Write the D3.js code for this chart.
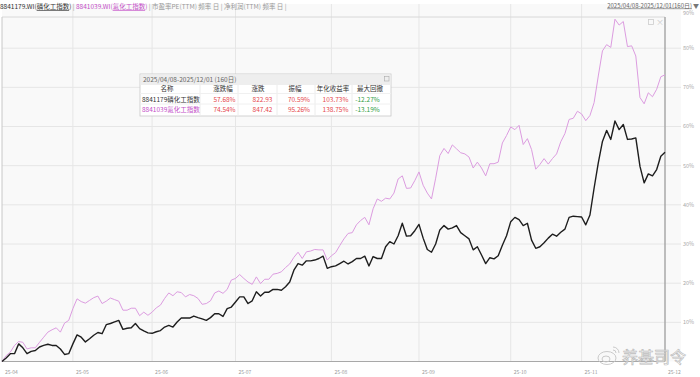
<!DOCTYPE html>
<html>
<head>
<meta charset="utf-8">
<script src="https://cdn.jsdelivr.net/npm/d3@7"></script>
<style>
  html, body { margin: 0; padding: 0; background: #fff; }
  svg { display: block; font-family: "Noto Sans CJK SC", "Noto Sans", sans-serif; }
</style>
</head>
<body>
<svg id="chart"></svg>
<script>
// 磷化工 / 氟化工 cumulative change (%) over 160 trading days, 2025/04/08 - 2025/12/01
const seriesNames = ['8841179.WI(磷化工指数)', '8841039.WI(氟化工指数)']
const phosphorus = [
  0, 0.9, 2.0, 2.0, 4.5, 3.5, 2.0, 2.6, 2.8, 3.7,
  4.1, 4.4, 4.1, 4.1, 3.2, 1.8, 2.0, 4.5, 6.8, 6.2,
  5.0, 5.8, 6.7, 7.4, 7.1, 9.4, 9.7, 10.1, 10.5, 8.2,
  8.5, 8.6, 9.7, 8.4, 7.8, 7.3, 7.2, 7.6, 7.9, 8.8,
  9.2, 8.8, 10.1, 11.1, 11.1, 11.1, 11.6, 11.2, 10.9, 10.5,
  11.2, 12.2, 12.2, 11.5, 13.5, 13.9, 15.2, 16.5, 16.5, 14.8,
  15.5, 17.8, 16.7, 17.7, 17.7, 18.4, 18.4, 18.2, 19.1, 20.3,
  23.3, 25.0, 24.6, 25.7, 25.7, 25.9, 26.3, 26.9, 23.8, 24.2,
  24.4, 25.0, 25.6, 24.9, 25.5, 26.3, 26.3, 26.9, 24.4, 26.8,
  26.3, 26.3, 29.3, 30.6, 30.0, 32.1, 35.3, 32.0, 32.1, 33.4,
  35.0, 31.5, 28.6, 27.9, 30.0, 33.6, 34.7, 33.8, 34.1, 34.7,
  32.9, 32.1, 31.3, 28.5, 29.3, 27.2, 25.0, 26.5, 26.2, 27.0,
  29.7, 32.1, 35.7, 36.8, 36.2, 34.7, 35.3, 31.0, 28.9, 29.3,
  30.3, 31.5, 32.5, 32.0, 33.0, 33.8, 36.8, 37.1, 37.0, 36.9,
  34.9, 37.4, 44.3, 50.7, 56.2, 59.0, 56.7, 61.4, 59.2, 60.5,
  56.7, 56.8, 57.1, 49.8, 45.6, 47.9, 47.4, 49.0, 52.4, 53.4
]
const fluorine = [
  0, 1.5, 2.4, 4.1, 5.1, 4.9, 3.2, 3.5, 3.5, 4.9,
  6.2, 7.5, 8.1, 8.6, 7.5, 9.8, 10.5, 13.5, 16.0, 15.3,
  14.9, 15.6, 16.3, 16.7, 14.8, 15.4, 16.2, 15.8, 15.4, 13.1,
  13.1, 13.6, 13.6, 11.7, 12.6, 11.8, 12.6, 13.7, 14.4, 16.1,
  17.5, 16.8, 17.8, 17.6, 16.5, 17.1, 16.8, 16.1, 14.6, 14.8,
  15.5, 17.5, 18.0, 17.4, 18.4, 20.8, 21.2, 22.2, 21.2, 20.3,
  19.7, 21.6, 19.9, 21.0, 21.0, 22.3, 22.5, 22.9, 24.0, 24.9,
  26.6, 27.9, 26.3, 28.0, 28.2, 28.6, 28.5, 28.5, 25.9, 27.0,
  27.8, 29.6, 31.3, 32.7, 32.9, 34.9, 36.0, 36.8, 34.9, 39.0,
  41.5, 40.9, 41.7, 41.5, 43.0, 46.6, 47.4, 44.2, 44.3, 46.2,
  48.4, 45.0, 43.0, 41.5, 46.8, 52.6, 54.4, 53.1, 55.3, 54.3,
  53.3, 53.0, 52.2, 49.4, 50.9, 49.4, 47.4, 50.5, 50.5, 50.9,
  55.8, 57.7, 59.9, 59.2, 60.3, 55.4, 56.9, 54.1, 49.1, 50.3,
  51.8, 50.4, 51.8, 53.0, 56.1, 58.2, 61.8, 62.1, 63.9, 63.2,
  61.5, 62.8, 66.1, 72.9, 79.3, 80.9, 80.2, 87.4, 85.9, 86.8,
  80.4, 80.6, 78.0, 67.4, 65.8, 68.6, 67.6, 69.5, 72.7, 73.2
]
// first trading day of each month (index into the series) and its label
const monthIdx = [0, 17, 36, 56, 79, 100, 122, 139, 159]
const monthLabels = ['25-04', '25-05', '25-06', '25-07', '25-08', '25-09', '25-10', '25-11', '25-12']
const yTicks = [10, 20, 30, 40, 50, 60, 70, 80, 90]

// stats table
const statHeads = ['名称', '涨跌幅', '涨跌', '振幅', '年化收益率', '最大回撤']
const statNames = ['8841179磷化工指数', '8841039氟化工指数']
const statChange = ['57.68%', '74.54%']
const statPoints = ['822.93', '847.42']
const statAmp = ['70.59%', '95.26%']
const statAnnual = ['103.73%', '138.75%']
const statDrawdown = ['-12.27%', '-13.19%']

const W = 700, H = 377
const plot = { left: 2, right: 665, top: 17, bottom: 361.5 }
const colors = { black: '#1e1e1e', pink: '#dc9ce0', pinkText: '#c44fc8' }

const svg = d3.select('#chart').attr('width', W).attr('height', H)

const x = d3.scaleLinear().domain([0, phosphorus.length - 1]).range([plot.left, plot.right])
const y = d3.scaleLinear().domain([0, 90]).range([plot.bottom, 9])

// plot background
svg.append('rect')
  .attr('x', plot.left).attr('y', 4)
  .attr('width', 681 - plot.left).attr('height', plot.bottom - 4)
  .attr('fill', '#f9f9f9')

// horizontal grid
svg.append('g').selectAll('line')
  .data(yTicks.filter(d => y(d) > plot.top))
  .join('line')
  .attr('x1', plot.left).attr('x2', 681)
  .attr('y1', d => y(d)).attr('y2', d => y(d))
  .attr('stroke', '#e6e6e6').attr('stroke-width', 1)

// vertical month grid
svg.append('g').selectAll('line')
  .data(monthIdx.slice(1, -1))
  .join('line')
  .attr('x1', d => x(d)).attr('x2', d => x(d))
  .attr('y1', 4).attr('y2', plot.bottom)
  .attr('stroke', '#e6e6e6').attr('stroke-width', 1)

// top rule, frame
svg.append('line')
  .attr('x1', plot.left).attr('x2', plot.right)
  .attr('y1', plot.top).attr('y2', plot.top)
  .attr('stroke', '#d8d8d8')
svg.append('line')
  .attr('x1', plot.left).attr('x2', plot.left)
  .attr('y1', plot.top).attr('y2', plot.bottom)
  .attr('stroke', '#c8c8c8')
svg.append('line')
  .attr('x1', plot.right).attr('x2', plot.right)
  .attr('y1', plot.top).attr('y2', plot.bottom)
  .attr('stroke', '#a8a8a8').attr('stroke-width', 1.5)
svg.append('line')
  .attr('x1', plot.left).attr('x2', plot.right)
  .attr('y1', plot.bottom).attr('y2', plot.bottom)
  .attr('stroke', '#a8a8a8').attr('stroke-width', 1.2)

// y labels on the right
svg.append('g').selectAll('text')
  .data(yTicks)
  .join('text')
  .attr('x', 683)
  .attr('y', d => Math.max(y(d), 13))
  .attr('dy', '0.35em')
  .attr('font-size', 5.5)
  .attr('fill', '#aaa')
  .text(d => d + '%')

// x labels
svg.append('g').selectAll('text')
  .data(monthIdx)
  .join('text')
  .attr('x', d => x(d) + 3)
  .attr('y', 373.5)
  .attr('font-size', 5)
  .attr('fill', '#999')
  .text((d, i) => monthLabels[i])

// lines
const line = d3.line().x((d, i) => x(i)).y(d => y(d))
svg.append('path')
  .datum(fluorine)
  .attr('d', line)
  .attr('fill', 'none')
  .attr('stroke', colors.pink)
  .attr('stroke-width', 1)
svg.append('path')
  .datum(phosphorus)
  .attr('d', line)
  .attr('fill', 'none')
  .attr('stroke', colors.black)
  .attr('stroke-width', 1.4)
  .attr('stroke-linejoin', 'round')

// small window icons at top right of plot
svg.append('rect')
  .attr('x', 648.5).attr('y', 19.5).attr('width', 5).attr('height', 5)
  .attr('fill', 'none').attr('stroke', '#ccc').attr('stroke-width', 0.8)
svg.append('text')
  .attr('x', 656).attr('y', 25).attr('font-size', 8).attr('fill', '#ccc')
  .text('×')

// header
const head = svg.append('text').attr('x', 0).attr('y', 9).attr('font-size', 6.5)
head.append('tspan').attr('fill', '#333').text('8841179.WI(')
head.append('tspan').attr('fill', '#333').attr('text-decoration', 'underline').text('磷化工指数')
head.append('tspan').attr('fill', '#333').text(') ')
head.append('tspan').attr('fill', '#999').text('| ')
head.append('tspan').attr('fill', colors.pinkText).text('8841039.WI(')
head.append('tspan').attr('fill', colors.pinkText).attr('text-decoration', 'underline').text('氟化工指数')
head.append('tspan').attr('fill', colors.pinkText).text(') ')
head.append('tspan').attr('fill', '#999').text('| 市盈率PE(TTM) 频率 日 | 净利润(TTM) 频率 日 |')

svg.append('text')
  .attr('x', 692).attr('y', 7.5)
  .attr('text-anchor', 'end')
  .attr('font-size', 6)
  .attr('fill', '#666')
  .attr('text-decoration', 'underline')
  .text('2025/04/08-2025/12/01(160日)')
svg.append('text')
  .attr('x', 693).attr('y', 7.5)
  .attr('font-size', 6)
  .attr('fill', '#777')
  .text('▼')

// stats box
const box = { x: 140, y: 74, w: 251, h: 42 }
const tb = svg.append('g')
tb.append('rect')
  .attr('x', box.x).attr('y', box.y).attr('width', box.w).attr('height', box.h)
  .attr('fill', '#fff').attr('stroke', '#c8c8c8').attr('stroke-width', 0.8)
tb.append('rect')
  .attr('x', box.x + 0.5).attr('y', box.y + 0.5).attr('width', box.w - 1).attr('height', 10.5)
  .attr('fill', '#eeeeee')
tb.append('text')
  .attr('x', box.x + 3).attr('y', box.y + 8)
  .attr('font-size', 6.5).attr('fill', '#666')
  .text('2025/04/08-2025/12/01 (160日)')
tb.append('rect')
  .attr('x', 384.5).attr('y', 76.5).attr('width', 4.5).attr('height', 4.5)
  .attr('fill', 'none').attr('stroke', '#aaa').attr('stroke-width', 0.6)

const colEdges = [140, 200, 238, 277, 315, 352, 391]
tb.append('g').selectAll('line')
  .data(colEdges.slice(1, -1))
  .join('line')
  .attr('x1', d => d).attr('x2', d => d)
  .attr('y1', box.y + 11).attr('y2', box.y + box.h)
  .attr('stroke', '#ececec')
tb.append('g').selectAll('line')
  .data([93.5, 104])
  .join('line')
  .attr('x1', box.x).attr('x2', box.x + box.w)
  .attr('y1', d => d).attr('y2', d => d)
  .attr('stroke', '#f0f0f0')

const headX = [167, 223, 258, 295, 333, 370]
tb.append('g').selectAll('text')
  .data(statHeads)
  .join('text')
  .attr('x', (d, i) => headX[i]).attr('y', 91)
  .attr('text-anchor', 'middle')
  .attr('font-size', 6.5).attr('fill', '#333')
  .text(d => d)

const valX = [224.5, 262.5, 299, 335.5, 367.5]
const rowY = [101.5, 111.5]
statNames.forEach((name, r) => {
  tb.append('text')
    .attr('x', 142).attr('y', rowY[r])
    .attr('font-size', 6.5)
    .attr('fill', r === 0 ? '#333' : colors.pinkText)
    .text(name)
  const vals = [statChange[r], statPoints[r], statAmp[r], statAnnual[r], statDrawdown[r]]
  vals.forEach((v, c) => {
    tb.append('text')
      .attr('x', valX[c]).attr('y', rowY[r])
      .attr('text-anchor', 'middle')
      .attr('font-size', 6.5)
      .attr('fill', c === 4 ? '#2f9e44' : '#e5484d')
      .text(v)
  })
})

// watermark
const wm = svg.append('g').attr('fill', 'none').attr('stroke', '#c4c4c4').attr('stroke-width', 0.9)
wm.append('ellipse').attr('cx', 607).attr('cy', 358).attr('rx', 9).attr('ry', 6.5)
wm.append('ellipse').attr('cx', 606).attr('cy', 359).attr('rx', 4).attr('ry', 3)
wm.append('path').attr('d', 'M613,347 a6,6 0 0 1 6,6 M613,350 a3,3 0 0 1 3,3')
svg.append('text')
  .attr('x', 622).attr('y', 363)
  .attr('font-size', 16)
  .attr('fill', '#fff').attr('fill-opacity', 0.6)
  .attr('stroke', '#bcbcbc').attr('stroke-width', 0.7)
  .text('养基司令')
</script>
</body>
</html>
